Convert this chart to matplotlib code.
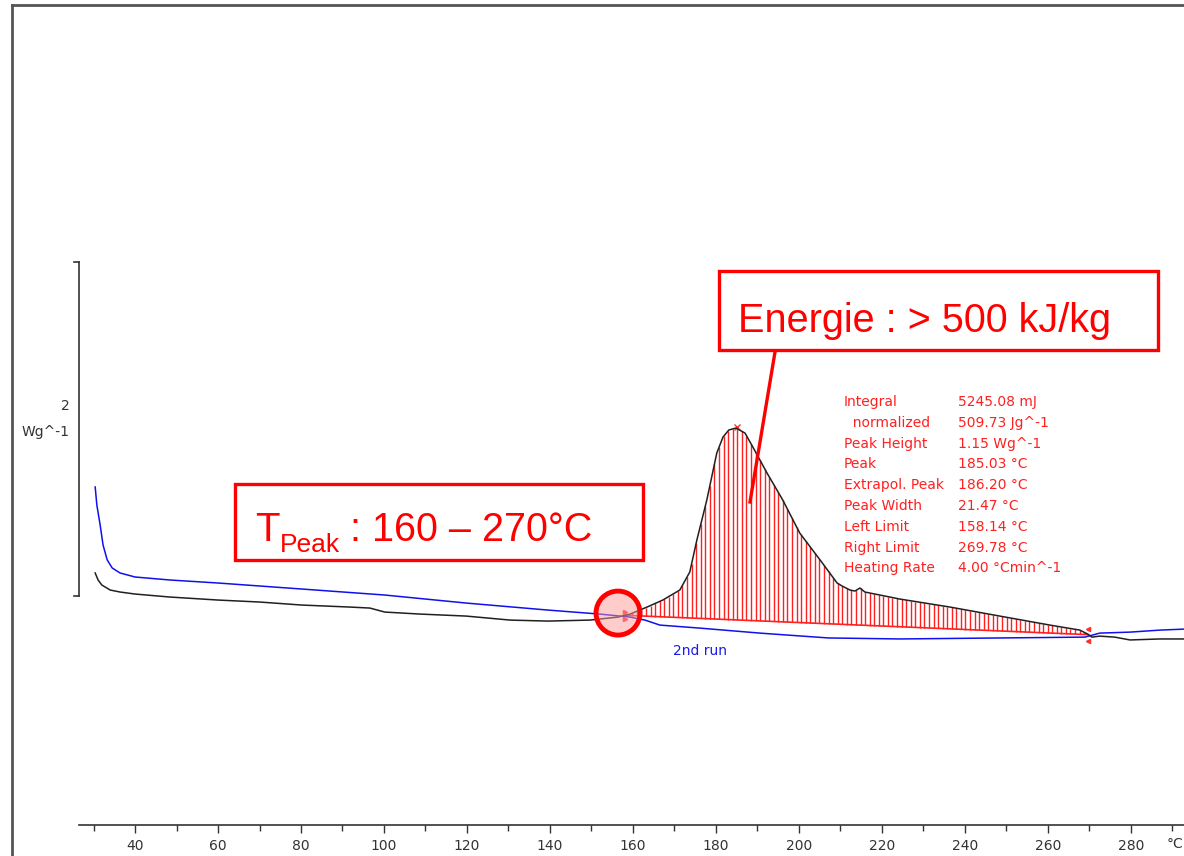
import numpy as np
import matplotlib
matplotlib.use("Agg")
import matplotlib.pyplot as plt
from matplotlib.lines import Line2D
from matplotlib.patches import Ellipse, Rectangle

# 1st run (black) - temperature in degC, heat flow in W/g
t_run1 = [30.4, 31.1, 32.0, 34.0, 36.4, 40.0, 48.4, 60.0, 70.1, 80.2, 91.8, 96.6,
          100.2, 108.7, 119.8, 130.4, 139.5, 149.6, 156.4, 159.3, 163.4, 167.2,
          171.3, 173.7, 175.4, 177.8, 180.2, 181.7, 183.1, 184.8, 187.0, 188.9,
          192.3, 196.1, 200.2, 205.1, 209.2, 210.4, 212.3, 213.5, 214.7, 215.9,
          219.5, 224.3, 236.4, 248.4, 260.5, 267.7, 269.6, 270.6, 272.5, 276.1,
          279.8, 287.0, 292.8]
hf_run1 = [0.138, 0.096, 0.066, 0.036, 0.024, 0.012, -0.006, -0.024, -0.036, -0.054,
           -0.066, -0.072, -0.096, -0.108, -0.120, -0.144, -0.150, -0.144, -0.126,
           -0.108, -0.066, -0.024, 0.036, 0.144, 0.335, 0.575, 0.856, 0.952, 0.994,
           1.006, 0.976, 0.892, 0.737, 0.575, 0.377, 0.216, 0.078, 0.060, 0.036,
           0.030, 0.048, 0.024, 0.006, -0.018, -0.066, -0.120, -0.174, -0.204,
           -0.228, -0.246, -0.240, -0.246, -0.263, -0.257, -0.257]

# 2nd run (blue)
t_run2 = [30.4, 30.8, 31.6, 32.3, 33.3, 34.5, 36.4, 40.0, 48.4, 60.0, 80.2, 100.2,
          119.8, 139.5, 152.0, 159.3, 162.9, 166.5, 176.1, 190.6, 207.1, 224.3,
          248.4, 268.9, 272.5, 279.8, 287.0, 292.8]
hf_run2 = [0.653, 0.545, 0.425, 0.305, 0.216, 0.168, 0.138, 0.114, 0.096, 0.078,
           0.042, 0.006, -0.042, -0.084, -0.108, -0.126, -0.144, -0.174, -0.192,
           -0.222, -0.251, -0.257, -0.251, -0.246, -0.222, -0.216, -0.204, -0.198]

# peak evaluation
left_limit = 158.14
right_limit = 269.78
peak_temp = 185.03

stat_names = ["Integral", "  normalized", "Peak Height", "Peak", "Extrapol. Peak",
              "Peak Width", "Left Limit", "Right Limit", "Heating Rate"]
stat_values = ["5245.08 mJ", "509.73 Jg^-1", "1.15 Wg^-1", "185.03 \u00b0C",
               "186.20 \u00b0C", "21.47 \u00b0C", "158.14 \u00b0C", "269.78 \u00b0C",
               "4.00 \u00b0Cmin^-1"]

x_major = list(range(40, 281, 20))
x_minor = list(range(30, 291, 10))

W, H = 1184, 856
fig = plt.figure(figsize=(W / 100, H / 100), dpi=100)
ax = fig.add_axes([79 / W, (H - 825) / H, (W - 79) / W, 825 / H])
ax.set_xlim(26.5, 292.8)
ax.set_ylim(-1.371, 3.569)

t1 = np.array(t_run1)
h1 = np.array(hf_run1)
ax.plot(t_run2, hf_run2, color="#1010ee", lw=1.1, zorder=3)
ax.plot(t_run1, hf_run1, color="#202020", lw=1.1, zorder=4)

# integration baseline + vertical hatching between baseline and curve
yl = np.interp(left_limit, t1, h1)
yr = np.interp(right_limit, t1, h1)
hx = np.arange(left_limit + 0.6, right_limit, 1.1)
hbase = yl + (hx - left_limit) * (yr - yl) / (right_limit - left_limit)
ax.vlines(hx, hbase, np.interp(hx, t1, h1), color="#ff2020", lw=1.0, zorder=2)
ax.plot([left_limit, right_limit], [yl, yr], color="#ff2020", lw=1.2, zorder=2)

# markers
ax.plot(peak_temp, np.interp(peak_temp, t1, h1) + 0.01, "x", color="#ff3030", ms=5, mew=1)
ax.plot([left_limit, left_limit], [yl + 0.02, yl - 0.02], ">", color="#ff3030", ms=3)
ax.plot([right_limit, right_limit], [yr + 0.035, yr - 0.035], "<", color="#ff3030", ms=3)

ax.add_patch(Ellipse((156.4, -0.102), 44 / 4.15, 44 / 167, facecolor="#ff9a9a",
                     alpha=0.5, edgecolor="none", zorder=5))
ax.add_patch(Ellipse((156.4, -0.102), 44 / 4.15, 44 / 167, facecolor="none",
                     edgecolor="#ff0000", lw=3.5, zorder=6))

ax.text(176.1, -0.33, "2nd run", color="#1a1aee", fontsize=10, ha="center", va="center")

# axis styling
for s in ["left", "right", "top"]:
    ax.spines[s].set_visible(False)
ax.spines["bottom"].set_color("#333333")
ax.spines["bottom"].set_linewidth(1.2)
ax.set_yticks([])
ax.set_xticks(x_major)
ax.set_xticks(x_minor, minor=True)
ax.tick_params(axis="x", which="major", length=6, width=1, color="#333333",
               labelsize=10, labelcolor="#333333", pad=4)
ax.tick_params(axis="x", which="minor", length=4, width=1, color="#333333")
fig.text(1183 / W, 1 - 837 / H, "\u00b0C", fontsize=10, color="#333333",
         ha="right", va="top")

# scale bar: 2 W/g
sb_x = 26.5
ax.plot([sb_x, sb_x], [0, 2], color="#333333", lw=1.2, clip_on=False)
ax.plot([sb_x - 1.2, sb_x], [0, 0], color="#333333", lw=1.2, clip_on=False)
ax.plot([sb_x - 1.2, sb_x], [2, 2], color="#333333", lw=1.2, clip_on=False)
fig.text(70 / W, 1 - 406 / H, "2", fontsize=10, color="#333333", ha="right", va="center")
fig.text(70 / W, 1 - 432 / H, "Wg^-1", fontsize=10, color="#333333", ha="right", va="center")

# outer frame
fig.add_artist(Line2D([12 / W, 12 / W], [0, 1 - 5 / H], color="#555555", lw=2))
fig.add_artist(Line2D([12 / W, 1], [1 - 5 / H, 1 - 5 / H], color="#555555", lw=2))

# statistics table
for i, (n, v) in enumerate(zip(stat_names, stat_values)):
    yy = 1 - (402 + i * 20.8) / H
    fig.text(844 / W, yy, n, fontsize=10, color="#ff2020", va="center")
    fig.text(958 / W, yy, v, fontsize=10, color="#ff2020", va="center")

big = ["Liberation Sans", "DejaVu Sans"]

# call-out boxes
fig.add_artist(Rectangle((719 / W, 1 - 350 / H), 439 / W, 79 / H, transform=fig.transFigure,
                         facecolor="white", edgecolor="#ff0000", lw=2.4, zorder=7))
fig.text(738 / W, 1 - 332 / H, "Energie : > 500 kJ/kg", family=big, fontsize=28.5,
         color="#ff0000", va="baseline", zorder=8)
fig.add_artist(Line2D([775 / W, 750 / W], [1 - 352 / H, 1 - 502 / H], color="#ff0000",
                      lw=2.4, zorder=7))

fig.add_artist(Rectangle((235 / W, 1 - 560 / H), 408 / W, 76 / H, transform=fig.transFigure,
                         facecolor="white", edgecolor="#ff0000", lw=2.4, zorder=7))
fig.text(255 / W, 1 - 541 / H, "T", family=big, fontsize=29, color="#ff0000",
         va="baseline", zorder=8)
fig.text(280 / W, 1 - 552 / H, "Peak", family=big, fontsize=19, color="#ff0000",
         va="baseline", zorder=8)
fig.text(350 / W, 1 - 541 / H, ": 160 \u2013 270\u00b0C", family=big, fontsize=28.5,
         color="#ff0000", va="baseline", zorder=8)

fig.savefig("out.png", dpi=100, facecolor="white")
